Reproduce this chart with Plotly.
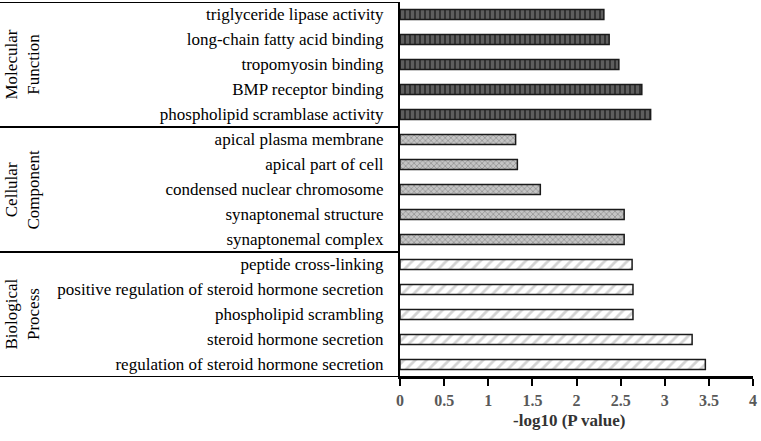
import plotly.graph_objects as go

# Data (bottom to top)
terms = [
    "regulation of steroid hormone secretion",
    "steroid hormone secretion",
    "phospholipid scrambling",
    "positive regulation of steroid hormone secretion",
    "peptide cross-linking",
    "synaptonemal complex",
    "synaptonemal structure",
    "condensed nuclear chromosome",
    "apical part of cell",
    "apical plasma membrane",
    "phospholipid scramblase activity",
    "BMP receptor binding",
    "tropomyosin binding",
    "long-chain fatty acid binding",
    "triglyceride lipase activity",
]
values = [3.46, 3.31, 2.64, 2.64, 2.63,
          2.54, 2.54, 1.59, 1.33, 1.31,
          2.84, 2.74, 2.48, 2.37, 2.31]
groups = ["Biological<br>Process", "Cellular<br>Component", "Molecular<br>Function"]
group_size = 5
x_ticks = [0, 0.5, 1, 1.5, 2, 2.5, 3, 3.5, 4]
x_tick_labels = ["<b>0</b>", "<b>0.5</b>", "<b>1</b>", "<b>1.5</b>", "<b>2</b>",
                 "<b>2.5</b>", "<b>3</b>", "<b>3.5</b>", "<b>4</b>"]
x_title = "<b>-log10 (P value)</b>"

W, H = 761, 441
ML, MR, MT, MB = 400, 8, 2, 64
plot_w = W - ML - MR
plot_h = H - MT - MB
FONT = "Liberation Serif, Times New Roman, serif"

styles = [
    dict(shape="/", bgcolor="white", fgcolor="#a8a8a8", size=8, solidity=0.35),
    dict(shape="x", bgcolor="#c4c4c4", fgcolor="#6e6e6e", size=4, solidity=0.4),
    dict(shape="|", bgcolor="#333333", fgcolor="#8a8a8a", size=5, solidity=0.6),
]

fig = go.Figure()
for g in range(3):
    sl = slice(g * group_size, (g + 1) * group_size)
    fig.add_trace(go.Bar(
        y=terms[sl], x=values[sl], orientation="h",
        marker=dict(color=styles[g]["bgcolor"],
                    pattern=styles[g],
                    line=dict(color="#1a1a1a", width=1.5)),
        width=0.4, showlegend=False, hoverinfo="skip",
    ))

shapes = []
left = -ML / plot_w
for b in [-0.5, 4.5, 9.5, 14.5]:
    shapes.append(dict(type="line", xref="paper", yref="y",
                       x0=left, x1=0 if b != -0.5 else 1, y0=b, y1=b,
                       line=dict(color="black", width=2)))

annotations = []
for g, name in enumerate(groups):
    annotations.append(dict(
        text=name, xref="paper", yref="y",
        x=(22 - ML) / plot_w, y=g * group_size + 2,
        showarrow=False, textangle=-90,
        font=dict(family=FONT, size=17, color="black"),
        xanchor="center", yanchor="middle",
    ))
annotations.append(dict(
    text=x_title, xref="paper", yref="paper",
    x=(569 - ML) / plot_w, y=-(420 - (MT + plot_h)) / plot_h,
    showarrow=False, xanchor="center", yanchor="middle",
    font=dict(family=FONT, size=17, color="#333333"),
))

fig.update_layout(
    width=W, height=H,
    margin=dict(l=ML, r=MR, t=MT, b=MB, autoexpand=False),
    plot_bgcolor="white", paper_bgcolor="white",
    font=dict(family=FONT, size=17, color="black"),
    shapes=shapes, annotations=annotations,
)
fig.update_xaxes(
    range=[0, 4], tickvals=x_ticks, ticktext=x_tick_labels,
    showgrid=False, zeroline=False, automargin=False,
    showline=True, linecolor="black", linewidth=2,
    ticks="outside", ticklen=7, tickwidth=1.5, tickcolor="black",
    ticklabelstandoff=1,
    tickfont=dict(family=FONT, size=16, color="#595959"),
)
fig.update_yaxes(
    categoryorder="array", categoryarray=terms,
    range=[-0.5, 14.5], automargin=False,
    showgrid=False, zeroline=False,
    showline=True, linecolor="black", linewidth=2,
    ticks="", ticklabelstandoff=11,
    tickfont=dict(family=FONT, size=17, color="black"),
)

fig.write_html(
    "out.html",
    config={"displayModeBar": False},
    post_script="document.body.style.margin='0';document.body.style.overflow='hidden';",
)
